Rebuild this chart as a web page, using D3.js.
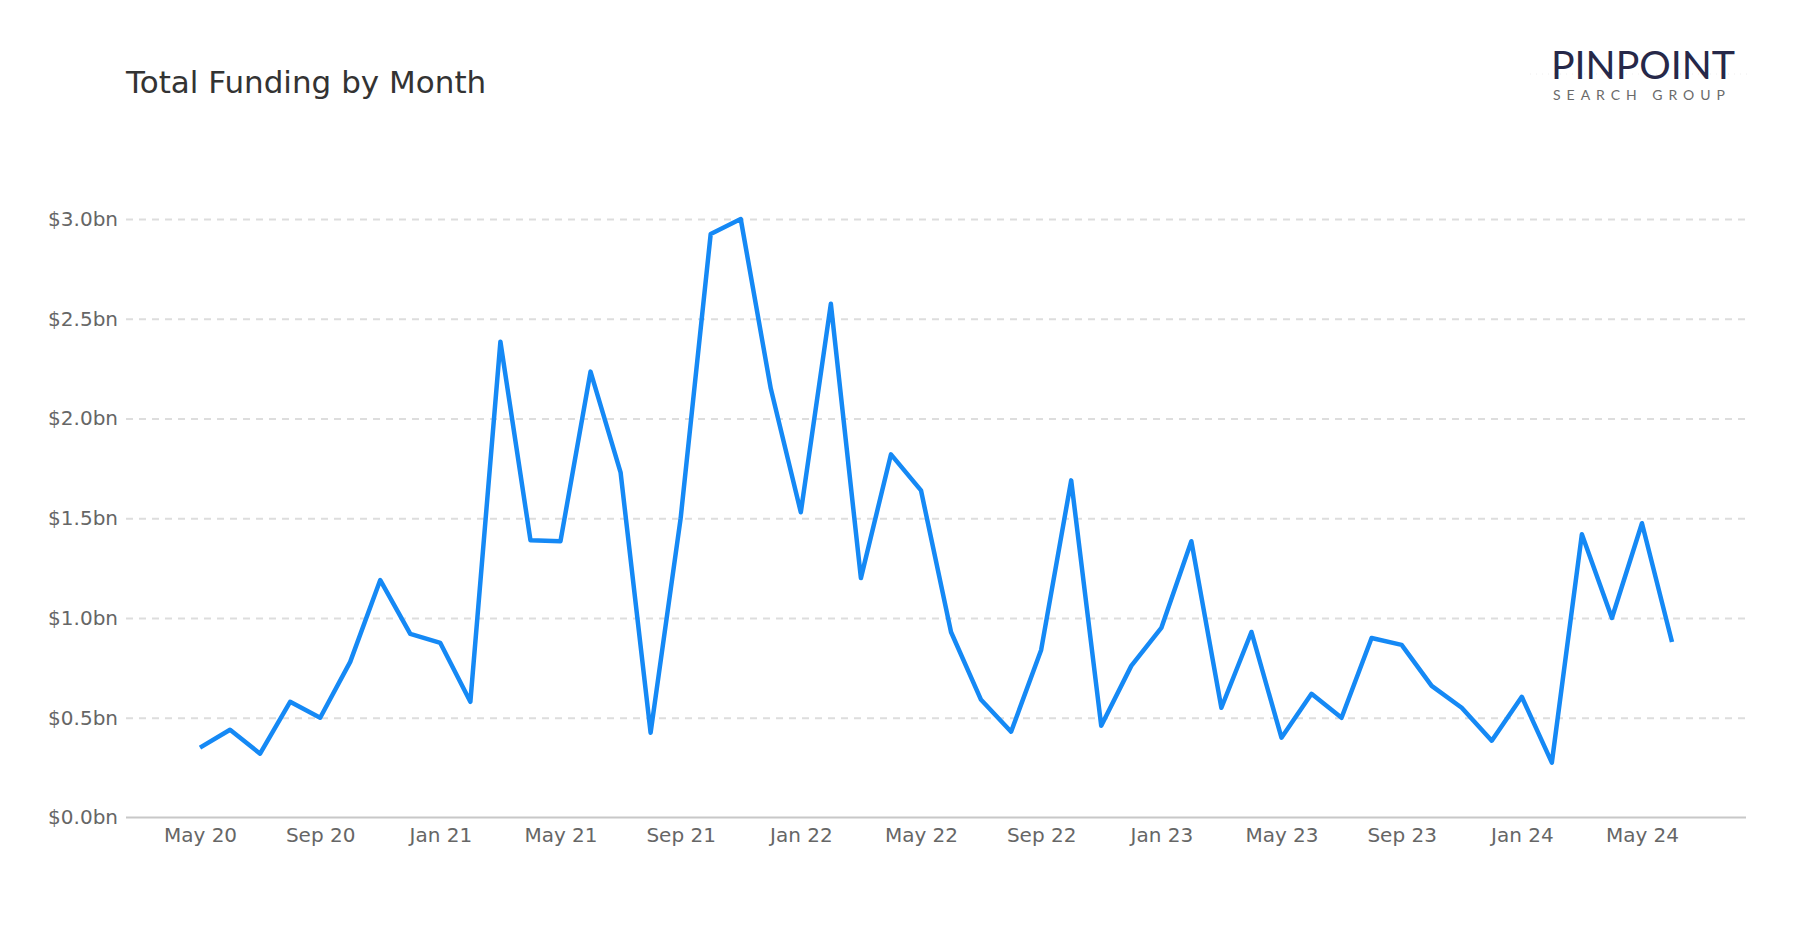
<!DOCTYPE html>
<html>
<head>
<meta charset="utf-8">
<script src="https://cdn.jsdelivr.net/npm/d3@7"></script>
<style>
  html, body { margin: 0; padding: 0; background: #fff; }
  svg { display: block; font-family: "DejaVu Sans", sans-serif; }
</style>
</head>
<body>
<div class="chart"></div>
<script>
// months, May 2020 .. Jun 2024
const months = [
  "May 20","Jun 20","Jul 20","Aug 20","Sep 20","Oct 20","Nov 20","Dec 20",
  "Jan 21","Feb 21","Mar 21","Apr 21","May 21","Jun 21","Jul 21","Aug 21","Sep 21","Oct 21","Nov 21","Dec 21",
  "Jan 22","Feb 22","Mar 22","Apr 22","May 22","Jun 22","Jul 22","Aug 22","Sep 22","Oct 22","Nov 22","Dec 22",
  "Jan 23","Feb 23","Mar 23","Apr 23","May 23","Jun 23","Jul 23","Aug 23","Sep 23","Oct 23","Nov 23","Dec 23",
  "Jan 24","Feb 24","Mar 24","Apr 24","May 24","Jun 24"
];

// total funding, $bn
const funding = [
  0.35, 0.44, 0.32, 0.58, 0.50, 0.78, 1.19, 0.92,
  0.875, 0.58, 2.385, 1.39, 1.385, 2.235, 1.73, 0.425, 1.50, 2.925, 3.00, 2.15,
  1.53, 2.575, 1.20, 1.82, 1.64, 0.93, 0.59, 0.43, 0.84, 1.69, 0.46, 0.76,
  0.95, 1.385, 0.55, 0.93, 0.40, 0.62, 0.50, 0.90, 0.865, 0.66, 0.55, 0.385,
  0.605, 0.275, 1.42, 1.00, 1.475, 0.88
];

const xTicks = ["May 20","Sep 20","Jan 21","May 21","Sep 21","Jan 22","May 22",
                "Sep 22","Jan 23","May 23","Sep 23","Jan 24","May 24"];
const yTicks = [0, 0.5, 1.0, 1.5, 2.0, 2.5, 3.0];

const W = 1800, H = 930;
const plot = {left: 126, right: 1746, top: 219, bottom: 817.5};

const svg = d3.select(".chart").append("svg")
    .attr("width", W)
    .attr("height", H);

const x = d3.scalePoint()
    .domain(months)
    .range([200, 1672]);

const y = d3.scaleLinear()
    .domain([0, 3])
    .range([plot.bottom, plot.top]);

// title
svg.append("text")
    .attr("x", 126)
    .attr("y", 93)
    .attr("fill", "#333")
    .style("font-size", "31px")
    .text("Total Funding by Month");

// logo
const logo = svg.append("g");
logo.append("line")
    .attr("x1", 1530).attr("x2", 1748)
    .attr("y1", 74).attr("y2", 74)
    .attr("stroke", "#eee")
    .attr("stroke-dasharray", "1,5");
logo.append("text")
    .attr("x", 1551)
    .attr("y", 79)
    .attr("fill", "#262849")
    .attr("textLength", 184)
    .attr("lengthAdjust", "spacingAndGlyphs")
    .style("font-family", "Lato, sans-serif")
    .style("font-weight", 400)
    .style("font-size", "38px")
    .text("PINPOINT");
logo.append("text")
    .attr("x", 1553)
    .attr("y", 100)
    .attr("fill", "#6a6a6a")
    .attr("textLength", 172)
    .attr("lengthAdjust", "spacing")
    .style("font-family", "Lato, sans-serif")
    .style("font-size", "14px")
    .text("SEARCH GROUP");

// gridlines + y labels
const yAxis = svg.append("g")
    .attr("transform", "translate(" + plot.left + ",0)")
    .call(d3.axisLeft(y)
        .tickValues(yTicks)
        .tickSize(-(plot.right - plot.left))
        .tickPadding(8)
        .tickFormat(d => "$" + d.toFixed(1) + "bn"));
yAxis.attr("font-family", "DejaVu Sans, sans-serif");
yAxis.select(".domain").remove();
yAxis.selectAll(".tick line")
    .attr("stroke", "#ddd")
    .attr("stroke-width", 2)
    .attr("stroke-dasharray", "7,6")
    .filter(d => d === 0).remove();
yAxis.selectAll(".tick text")
    .attr("fill", "#666")
    .style("font-size", "20px");

// x axis
const xAxis = svg.append("g")
    .attr("transform", "translate(0," + plot.bottom + ")")
    .call(d3.axisBottom(x)
        .tickValues(xTicks)
        .tickSize(0)
        .tickPadding(10));
xAxis.attr("font-family", "DejaVu Sans, sans-serif");
xAxis.select(".domain").remove();
xAxis.append("line")
    .attr("x1", plot.left).attr("x2", plot.right)
    .attr("stroke", "#c8c8c8")
    .attr("stroke-width", 2);
xAxis.selectAll(".tick text")
    .attr("fill", "#666")
    .style("font-size", "20px");

// line
const line = d3.line()
    .x((d, i) => x(months[i]))
    .y(d => y(d));

svg.append("path")
    .datum(funding)
    .attr("fill", "none")
    .attr("stroke", "#1589f5")
    .attr("stroke-width", 4.5)
    .attr("stroke-linejoin", "round")
    .attr("d", line);
</script>
</body>
</html>
